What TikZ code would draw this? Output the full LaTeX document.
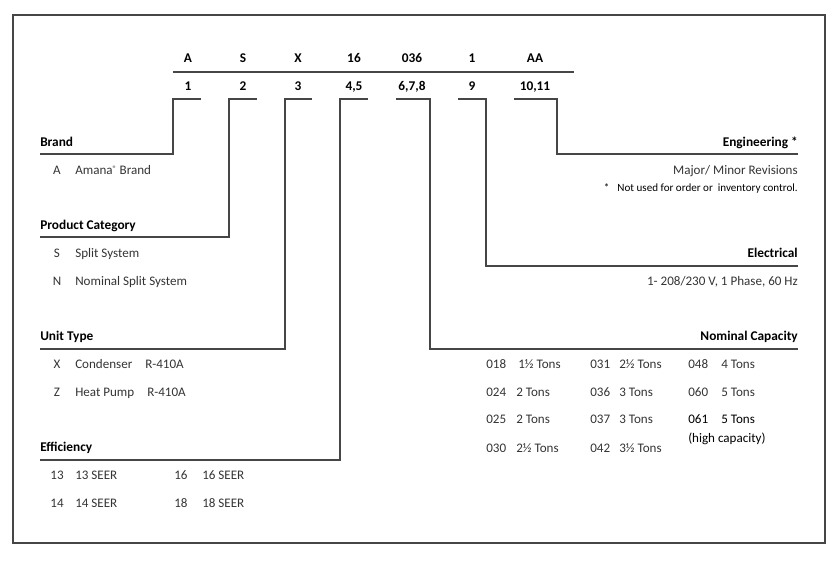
\documentclass[tikz,border=0pt]{standalone}
\usepackage{fontspec}
\setmainfont{Carlito}
\definecolor{txtgray}{RGB}{52,52,52}
\definecolor{linegray}{RGB}{70,70,70}

\begin{document}
\begin{tikzpicture}[x=0.75pt,y=-0.75pt,%
  HeadStyle/.style={font=\bfseries\fontsize{10}{12}\selectfont,text=black,inner sep=0pt},
  TextStyle/.style={font=\fontsize{9.8}{12}\selectfont,text=txtgray,inner sep=0pt},
  NoteStyle/.style={font=\fontsize{8.3}{10}\selectfont,text=black,inner sep=0pt},
  LineStyle/.style={draw=linegray,line width=0.8pt}]
  \useasboundingbox (0,0) rectangle (840,565);
  \draw[linegray,line width=1pt] (13,15) rectangle (825,543);   % outer frame

  % model number and digit positions
  \node[HeadStyle,anchor=base] (c1) at (188,62) {A};
  \node[HeadStyle,anchor=base] (c2) at (243,62) {S};
  \node[HeadStyle,anchor=base] (c3) at (298,62) {X};
  \node[HeadStyle,anchor=base] (c4) at (354,62) {16};
  \node[HeadStyle,anchor=base] (c5) at (412,62) {036};
  \node[HeadStyle,anchor=base] (c6) at (472,62) {1};
  \node[HeadStyle,anchor=base] (c7) at (535,62) {AA};
  \coordinate (ruleL) at (173,72);
  \coordinate (ruleR) at (574,72);
  \draw[LineStyle] (ruleL) -- (ruleR);
  \node[HeadStyle,anchor=base] (p1) at (188,90) {1};
  \node[HeadStyle,anchor=base] (p2) at (243,90) {2};
  \node[HeadStyle,anchor=base] (p3) at (298,90) {3};
  \node[HeadStyle,anchor=base] (p4) at (354,90) {4,5};
  \node[HeadStyle,anchor=base] (p5) at (412,90) {6,7,8};
  \node[HeadStyle,anchor=base] (p6) at (472,90) {9};
  \node[HeadStyle,anchor=base] (p7) at (535,90) {10,11};

  % tick ends and corners under the positions
  \coordinate (t1) at (201,99);  \coordinate (k1) at (173,99);
  \coordinate (t2) at (257,99);  \coordinate (k2) at (229,99);
  \coordinate (t3) at (312,99);  \coordinate (k3) at (285,99);
  \coordinate (t4) at (368,99);  \coordinate (k4) at (340,99);
  \coordinate (t5) at (396,99);  \coordinate (k5) at (430,99);
  \coordinate (t6) at (458,99);  \coordinate (k6) at (486,99);
  \coordinate (t7) at (514,99);  \coordinate (k7) at (557,99);

  % left column
  \node[HeadStyle,anchor=base west] (brand) at (40,146) {Brand};
  \coordinate (brandL) at (40,154);
  \node[TextStyle,anchor=base] (brA) at (57,174) {A};
  \node[TextStyle,anchor=base west] (brAt) at (75,174) {Amana\raisebox{0.35ex}{\fontsize{6}{6}\selectfont ®} Brand};

  \node[HeadStyle,anchor=base west] (cat) at (40,229) {Product Category};
  \coordinate (catL) at (40,237);
  \node[TextStyle,anchor=base] (catS) at (57,257) {S};
  \node[TextStyle,anchor=base west] (catSt) at (75,257) {Split System};
  \node[TextStyle,anchor=base] (catN) at (57,285) {N};
  \node[TextStyle,anchor=base west] (catNt) at (75,285) {Nominal Split System};

  \node[HeadStyle,anchor=base west] (unit) at (40,340) {Unit Type};
  \coordinate (unitL) at (40,349);
  \node[TextStyle,anchor=base] (unX) at (57,368) {X};
  \node[TextStyle,anchor=base west] (unXt) at (75,368) {Condenser};
  \node[TextStyle,anchor=base west] (unXr) at (145,368) {R-410A};
  \node[TextStyle,anchor=base] (unZ) at (57,396) {Z};
  \node[TextStyle,anchor=base west] (unZt) at (75,396) {Heat Pump};
  \node[TextStyle,anchor=base west] (unZr) at (147,396) {R-410A};

  \node[HeadStyle,anchor=base west] (eff) at (40,451) {Efficiency};
  \coordinate (effL) at (40,460);
  \node[TextStyle,anchor=base] (ef13) at (57,479) {13};
  \node[TextStyle,anchor=base west] (ef13t) at (75,479) {13 SEER};
  \node[TextStyle,anchor=base west] (ef16) at (174,479) {16};
  \node[TextStyle,anchor=base west] (ef16t) at (202,479) {16 SEER};
  \node[TextStyle,anchor=base] (ef14) at (57,507) {14};
  \node[TextStyle,anchor=base west] (ef14t) at (75,507) {14 SEER};
  \node[TextStyle,anchor=base west] (ef18) at (174,507) {18};
  \node[TextStyle,anchor=base west] (ef18t) at (202,507) {18 SEER};

  % right column
  \node[HeadStyle,anchor=base east] (eng) at (798,146) {Engineering *};
  \coordinate (engR) at (798,154);
  \node[TextStyle,anchor=base east] (engt) at (798,174) {Major/ Minor Revisions};
  \node[NoteStyle,anchor=base east] (engn) at (798,191) {*\hspace{6pt}Not used for order or~ inventory control.};

  \node[HeadStyle,anchor=base east] (elec) at (798,257) {Electrical};
  \coordinate (elecR) at (798,266);
  \node[TextStyle,anchor=base east] (elect) at (798,285) {1- 208/230 V, 1 Phase, 60 Hz};

  \node[HeadStyle,anchor=base east] (cap) at (798,340) {Nominal Capacity};
  \coordinate (capR) at (798,349);
  \node[TextStyle,anchor=base west] (q018) at (486,368) {018};
  \node[TextStyle,anchor=base west] (q018t) at (518,368) {1½ Tons};
  \node[TextStyle,anchor=base west] (q024) at (486,396) {024};
  \node[TextStyle,anchor=base west] (q024t) at (516,396) {2 Tons};
  \node[TextStyle,anchor=base west] (q025) at (486,423) {025};
  \node[TextStyle,anchor=base west] (q025t) at (516,423) {2 Tons};
  \node[TextStyle,anchor=base west] (q030) at (486,452) {030};
  \node[TextStyle,anchor=base west] (q030t) at (516,452) {2½ Tons};
  \node[TextStyle,anchor=base west] (q031) at (590,368) {031};
  \node[TextStyle,anchor=base west] (q031t) at (619,368) {2½ Tons};
  \node[TextStyle,anchor=base west] (q036) at (590,396) {036};
  \node[TextStyle,anchor=base west] (q036t) at (619,396) {3 Tons};
  \node[TextStyle,anchor=base west] (q037) at (590,423) {037};
  \node[TextStyle,anchor=base west] (q037t) at (619,423) {3 Tons};
  \node[TextStyle,anchor=base west] (q042) at (590,452) {042};
  \node[TextStyle,anchor=base west] (q042t) at (619,452) {3½ Tons};
  \node[TextStyle,anchor=base west] (q048) at (688,368) {048};
  \node[TextStyle,anchor=base west] (q048t) at (721,368) {4 Tons};
  \node[TextStyle,anchor=base west] (q060) at (688,396) {060};
  \node[TextStyle,anchor=base west] (q060t) at (721,396) {5 Tons};
  \node[TextStyle,text=black,anchor=base west] (q061) at (688,423) {061};
  \node[TextStyle,text=black,anchor=base west] (q061t) at (721,423) {5 Tons};
  \node[TextStyle,text=black,anchor=base west] (q061h) at (688,442) {(high capacity)};

  % brackets from the positions to the headings
  \draw[LineStyle] (t1) -- (k1) |- (brandL);
  \draw[LineStyle] (t2) -- (k2) |- (catL);
  \draw[LineStyle] (t3) -- (k3) |- (unitL);
  \draw[LineStyle] (t4) -- (k4) |- (effL);
  \draw[LineStyle] (t5) -- (k5) |- (capR);
  \draw[LineStyle] (t6) -- (k6) |- (elecR);
  \draw[LineStyle] (t7) -- (k7) |- (engR);
\end{tikzpicture}
\end{document}
